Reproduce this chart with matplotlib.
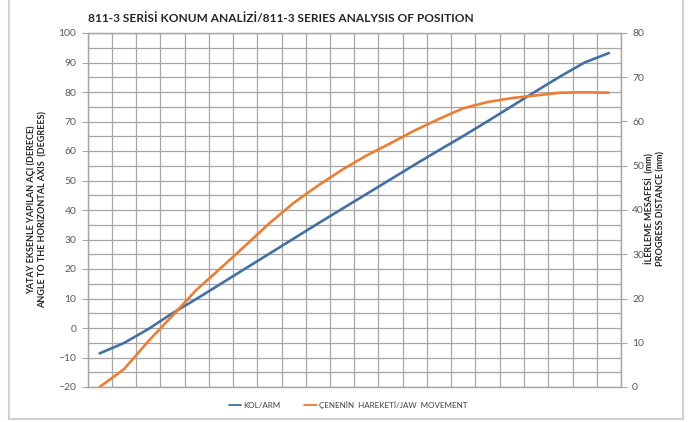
import numpy as np
from matplotlib import pyplot as plt
from matplotlib.lines import Line2D

plt.rcParams['font.family'] = ['Lato', 'DejaVu Sans']

# veriler
kol_arm = [-8.6, -5.1, -0.4, 5.0, 9.9, 15.0, 20.1, 25.2, 30.3, 35.4, 40.4,
           45.4, 50.4, 55.4, 60.3, 65.1, 70.1, 75.2, 80.3, 85.3, 90.0, 93.2]
jaw_mm = [0.0, 4.0, 10.3, 16.1, 22.0, 26.9, 31.9, 37.0, 41.6, 45.5, 49.1,
          52.3, 55.1, 58.0, 60.6, 63.0, 64.4, 65.3, 65.9, 66.5, 66.6, 66.5]
left_ticks = list(range(-20, 101, 10))
right_ticks = list(range(0, 81, 10))

title = '811-3 SERİSİ KONUM ANALİZİ/811-3 SERIES ANALYSIS OF POSITION'
left_label = 'YATAY EKSENLE YAPILAN AÇI (DERECE)\nANGLE TO THE HORIZONTAL AXIS  (DEGREES)'
right_label = 'İLERLEME MESAFESİ  (mm)\nPROGRESS DISTANCE (mm)'
names = ['KOL/ARM', 'ÇENENİN  HAREKETİ/JAW  MOVEMENT']

W, H = 697, 422
fig = plt.figure(figsize=(W / 100, H / 100), dpi=100)
ax = fig.add_axes([87.5 / W, 1 - 387 / H, (621 - 87.5) / W, (387 - 33) / H])
ax2 = ax.twinx()

x = np.arange(len(kol_arm))
grid_c = '#a6a6a6'
tick_c = '#595959'

ax.set_xlim(-0.5, len(x) - 0.5)
ax.set_ylim(-20, 100)
ax.set_yticks(left_ticks)
ax.set_yticks(np.arange(-15, 100, 10), minor=True)
ax.set_xticks([])
ax.set_xticks(np.arange(-0.5, len(x), 1), minor=True)
ax.grid(True, which='both', axis='both', color=grid_c, lw=0.9)
ax.set_axisbelow(True)
ax.tick_params(axis='x', which='both', length=0)
ax.tick_params(axis='y', which='major', length=4, color=grid_c, labelsize=7.5,
               labelcolor=tick_c, pad=4)
ax.tick_params(axis='y', which='minor', length=0)

ax2.set_ylim(0, 80)
ax2.set_yticks(right_ticks)
ax2.tick_params(axis='y', length=4, color=grid_c, labelsize=7.5, labelcolor=tick_c, pad=4)

for a in (ax, ax2):
    for s in a.spines.values():
        s.set_color(grid_c)
        s.set_linewidth(0.9)

l1, = ax.plot(x, kol_arm, color='#4270a4', lw=1.9, solid_capstyle='round')
l2, = ax2.plot(x, jaw_mm, color='#ed7d31', lw=1.9, solid_capstyle='round')

fig.text(88 / W, 1 - 18 / H, title, fontsize=8.6, fontweight='bold',
         color='#262626', ha='left', va='center')
fig.text(37 / W, 1 - 210 / H, left_label, rotation=90, fontsize=6.5, fontweight='bold',
         color='#262626', ha='center', va='center', linespacing=1.3)
fig.text(655 / W, 1 - 208 / H, right_label, rotation=90, fontsize=6.5, fontweight='bold',
         color='#262626', ha='center', va='center', linespacing=1.3)

fig.legend([l1, l2], names, loc='center', bbox_to_anchor=(348 / W, 1 - 405 / H),
           ncol=2, frameon=False, fontsize=5.8, handlelength=1.5, handletextpad=0.3,
           columnspacing=3.0, labelcolor='#404040')
for h in fig.legends[0].legend_handles:
    h.set_linewidth(1.3)

# cerceve
for xs, ys in [([9, 9], [0, 419]), ([683, 683], [0, 419]), ([9, 683], [419, 419])]:
    fig.add_artist(Line2D([v / W for v in xs], [1 - v / H for v in ys],
                          color='#d0d0d0', lw=1.5))

fig.savefig('out.png', dpi=100)
